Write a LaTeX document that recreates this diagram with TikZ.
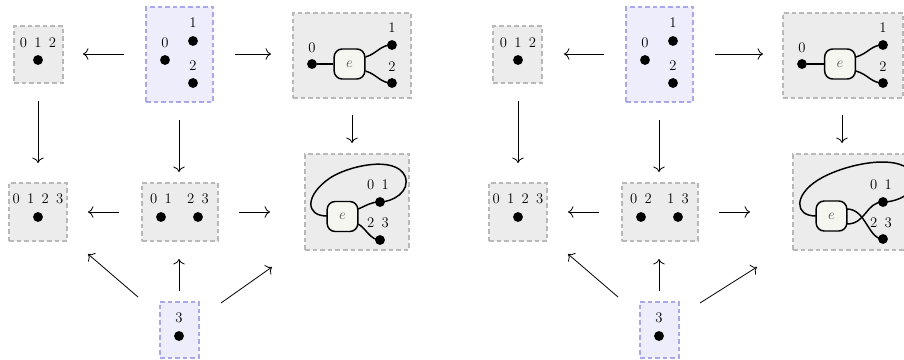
\documentclass[tikz,border=0pt]{standalone}
\usetikzlibrary{arrows.meta,fit,calc}
\definecolor{boxgray}{HTML}{ECECEC}
\definecolor{boxgrayline}{HTML}{B8B8B8}
\definecolor{boxpurple}{HTML}{EDEDFC}
\definecolor{boxpurpleline}{HTML}{A8A8F0}
\definecolor{efill}{HTML}{F6F6F0}
\begin{document}
\begin{tikzpicture}[x=0.75pt,y=-0.75pt,font=\fontsize{11}{13}\selectfont,
  graybox/.style={draw=boxgrayline, fill=boxgray, dash pattern=on 3.5pt off 2.2pt, line width=0.9pt, inner sep=0pt},
  purplebox/.style={graybox, draw=boxpurpleline, fill=boxpurple},
  dot/.style={circle, fill=black, inner sep=0pt, minimum size=7.4pt},
  lbl/.style={inner sep=0pt},
  ebox/.style={draw, line width=1.1pt, fill=efill, rounded corners=6pt, minimum width=23pt, minimum height=22.5pt, inner sep=0pt, text=black!65},
  strand/.style={line width=1.1pt},
  arr/.style={line width=0.6pt, -{Computer Modern Rightarrow[scale=1.4]}}]
\useasboundingbox (0,0) rectangle (904,360);
\clip (0,0) rectangle (904,360);

% ================= LEFT HALF =================
% boxes
\node[graybox, fit={(14,26) (63,83)}] (LA) {};
\node[purplebox, fit={(146,7) (213,102)}] (LB) {};
\node[graybox, fit={(293,13) (411,98)}] (LC) {};
\node[graybox, fit={(9,183) (67,241)}] (LD) {};
\node[graybox, fit={(142,183) (218,241)}] (LE) {};
\node[graybox, fit={(305,154) (409,250)}] (LF) {};
\node[purplebox, fit={(160,302) (199,358)}] (LG) {};

% box A
\node[lbl] (LAl) at (38,43) {0\enspace1\enspace2};
\node[dot] (LAd) at (38,60) {};
% box B
\node[lbl] (LBl0) at (165,43) {0};
\node[dot] (LBd0) at (165,60) {};
\node[lbl] (LBl1) at (193,23) {1};
\node[dot] (LBd1) at (193,41) {};
\node[lbl] (LBl2) at (193,66) {2};
\node[dot] (LBd2) at (193,83) {};
% box C
\node[lbl] (LCl0) at (312,48) {0};
\node[dot] (LCd0) at (312,64) {};
\node[ebox] (LCe) at (349.5,64) {$e$};
\node[lbl] (LCl1) at (392,28) {1};
\node[dot] (LCd1) at (392,45) {};
\node[lbl] (LCl2) at (392,67) {2};
\node[dot] (LCd2) at (392,83) {};
\draw[strand] (LCd0) -- (LCe.west);
\draw[strand] ($(LCe.east)+(0,-7)$) .. controls (378,53) and (380,45) .. (LCd1.center);
\draw[strand] ($(LCe.east)+(0,7)$) .. controls (378,75) and (380,83) .. (LCd2.center);
% box D
\node[lbl] (LDl) at (38,199) {0\enspace1\enspace2\enspace3};
\node[dot] (LDd) at (38,217) {};
% box E
\node[lbl] (LEl1) at (161,199) {0\enspace1};
\node[dot] (LEd1) at (161,217) {};
\node[lbl] (LEl2) at (198,199) {2\enspace3};
\node[dot] (LEd2) at (198,217) {};
% box F
\node[lbl] (LFl1) at (378,185) {0\enspace1};
\node[lbl] (LFl2) at (378,223) {2\enspace3};
\draw[strand] (327,216) .. controls (305,216) and (305,195) .. (330,178)
   .. controls (348,166) and (395,155) .. (405,176)
   .. controls (411,192) and (392,202) .. (380,202);
\draw[strand] (358,209) .. controls (366,206) and (370,202) .. (380,202);
\draw[strand] (358,224) .. controls (366,228) and (370,240) .. (380,240);
\node[ebox] (LFe) at (342.5,216.5) {$e$};
\node[dot] (LFd1) at (380,202) {};
\node[dot] (LFd2) at (380,240) {};
% box G
\node[lbl] (LGl) at (179,318) {3};
\node[dot] (LGd) at (179,336) {};

% arrows
\coordinate (l1s) at (124,54);  \coordinate (l1e) at (83,54);
\coordinate (l2s) at (235,54);  \coordinate (l2e) at (271,54);
\coordinate (l3s) at (38,101);  \coordinate (l3e) at (38,163);
\coordinate (l4s) at (179,120); \coordinate (l4e) at (179,172);
\coordinate (l5s) at (352,115); \coordinate (l5e) at (352,143);
\coordinate (l6s) at (119,212); \coordinate (l6e) at (88,212);
\coordinate (l7s) at (239,212); \coordinate (l7e) at (270,212);
\coordinate (l8s) at (138,297); \coordinate (l8e) at (88,254);
\coordinate (l9s) at (179,291); \coordinate (l9e) at (179,259);
\coordinate (l10s) at (221,303); \coordinate (l10e) at (272,267);
\foreach \i in {1,...,10} {\draw[arr] (l\i s) -- (l\i e);}

% ================= RIGHT HALF =================
\node[graybox, fit={(493,26) (542,83)}] (RA) {};
\node[purplebox, fit={(626,7) (693,102)}] (RB) {};
\node[graybox, fit={(783,13) (903,98)}] (RC) {};
\node[graybox, fit={(489,183) (547,241)}] (RD) {};
\node[graybox, fit={(622,183) (698,241)}] (RE) {};
\node[graybox, fit={(793,154) (916,250)}] (RF) {};
\node[purplebox, fit={(640,302) (679,358)}] (RG) {};

% box A'
\node[lbl] (RAl) at (518,43) {0\enspace1\enspace2};
\node[dot] (RAd) at (518,60) {};
% box B'
\node[lbl] (RBl0) at (645,43) {0};
\node[dot] (RBd0) at (645,60) {};
\node[lbl] (RBl1) at (673,23) {1};
\node[dot] (RBd1) at (673,41) {};
\node[lbl] (RBl2) at (673,66) {2};
\node[dot] (RBd2) at (673,83) {};
% box C'
\node[lbl] (RCl0) at (802,48) {0};
\node[dot] (RCd0) at (802,64) {};
\node[ebox] (RCe) at (840,64) {$e$};
\node[lbl] (RCl1) at (883,28) {1};
\node[dot] (RCd1) at (883,45) {};
\node[lbl] (RCl2) at (883,67) {2};
\node[dot] (RCd2) at (883,83) {};
\draw[strand] (RCd0) -- (RCe.west);
\draw[strand] ($(RCe.east)+(0,-7)$) .. controls (869,53) and (871,45) .. (RCd1.center);
\draw[strand] ($(RCe.east)+(0,7)$) .. controls (869,75) and (871,83) .. (RCd2.center);
% box D'
\node[lbl] (RDl) at (518,199) {0\enspace1\enspace2\enspace3};
\node[dot] (RDd) at (518,217) {};
% box E'
\node[lbl] (REl1) at (641,199) {0\enspace2};
\node[dot] (REd1) at (641,217) {};
\node[lbl] (REl2) at (678,199) {1\enspace3};
\node[dot] (REd2) at (678,217) {};
% box F'
\node[lbl] (RFl1) at (881,185) {0\enspace1};
\node[lbl] (RFl2) at (881,223) {2\enspace3};
\draw[strand] (816,216) .. controls (794,216) and (794,195) .. (818,180)
   .. controls (840,166) and (895,152) .. (912,172)
   .. controls (922,190) and (900,202) .. (883,202);
\draw[strand] (847,209) .. controls (866,209) and (868,239) .. (883,239);
\draw[strand] (847,224) .. controls (866,224) and (866,202) .. (883,202);
\node[ebox] (RFe) at (831.5,216) {$e$};
\node[dot] (RFd1) at (883,202) {};
\node[dot] (RFd2) at (883,239) {};
% box G'
\node[lbl] (RGl) at (659,318) {3};
\node[dot] (RGd) at (659,336) {};

% arrows
\coordinate (r1s) at (604,54);  \coordinate (r1e) at (564,54);
\coordinate (r2s) at (715,54);  \coordinate (r2e) at (763,54);
\coordinate (r3s) at (518,101); \coordinate (r3e) at (518,163);
\coordinate (r4s) at (659,120); \coordinate (r4e) at (659,172);
\coordinate (r5s) at (842,115); \coordinate (r5e) at (842,143);
\coordinate (r6s) at (599,212); \coordinate (r6e) at (568,212);
\coordinate (r7s) at (719,212); \coordinate (r7e) at (750,212);
\coordinate (r8s) at (618,297); \coordinate (r8e) at (568,254);
\coordinate (r9s) at (659,291); \coordinate (r9e) at (659,259);
\coordinate (r10s) at (700,303); \coordinate (r10e) at (757,267);
\foreach \i in {1,...,10} {\draw[arr] (r\i s) -- (r\i e);}
\end{tikzpicture}
\end{document}
